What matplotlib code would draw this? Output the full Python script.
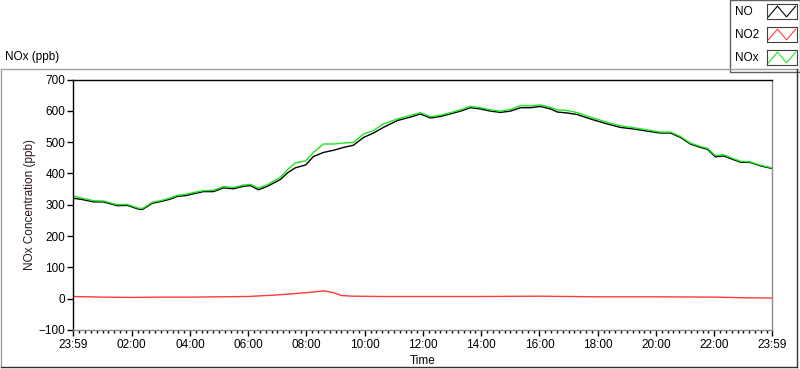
import numpy as np
import matplotlib
matplotlib.use("Agg")
import matplotlib.pyplot as plt
from matplotlib.lines import Line2D
from matplotlib.patches import Rectangle

plt.rcParams["font.family"] = ["Liberation Sans", "DejaVu Sans"]
plt.rcParams["font.size"] = 8.5

# hours of day (start is 23:59 of the previous day)
hours = [-0.02, 0.34, 0.69, 1.03, 1.51, 1.85, 2.23, 2.37, 2.71, 2.99, 3.33, 3.57,
         3.84, 4.12, 4.46, 4.81, 5.15, 5.49, 5.84, 6.08, 6.35, 6.66, 7.11, 7.35,
         7.62, 7.97, 8.24, 8.58, 8.93, 9.27, 9.61, 9.96, 10.30, 10.64, 11.12, 11.57,
         11.91, 12.26, 12.60, 12.94, 13.29, 13.63, 13.97, 14.32, 14.66, 15.00, 15.35,
         15.69, 16.03, 16.38, 16.62, 16.96, 17.30, 17.75, 18.33, 18.78, 19.23, 19.71,
         20.15, 20.50, 20.84, 21.18, 21.53, 21.77, 22.04, 22.32, 22.63, 22.90, 23.24,
         23.59, 23.98]
no_vals = [321, 316, 309, 309, 297, 298, 286, 285, 305, 310, 318, 327,
           329, 335, 342, 342, 354, 351, 359, 361, 348, 359, 381, 402,
           418, 427, 454, 467, 474, 483, 490, 515, 529, 547, 569, 580,
           590, 577, 582, 590, 599, 610, 606, 599, 595, 599, 610,
           610, 614, 606, 596, 593, 588, 574, 558, 547, 542, 535,
           529, 529, 515, 494, 483, 477, 453, 456, 445, 436, 435,
           424, 416]
nox_vals = [328, 320, 313, 312, 300, 301, 289, 288, 308, 313, 322, 330,
            333, 339, 345, 346, 358, 355, 363, 365, 353, 364, 388, 412,
            434, 440, 467, 494, 494, 497, 499, 526, 537, 558, 574, 585,
            594, 581, 586, 594, 603, 614, 610, 603, 599, 604, 617,
            616, 619, 611, 603, 601, 594, 580, 563, 552, 546, 539,
            532, 532, 518, 497, 486, 480, 457, 460, 448, 439, 437,
            426, 418]

no2_hours = [-0.02, 1, 2, 3, 4, 5, 6, 7, 7.7, 8.2, 8.6, 8.9, 9.2, 9.6,
             10.5, 12, 14, 16, 18, 20, 22, 23, 23.98]
no2_vals = [7, 5, 4, 5, 5, 6, 7, 12, 17, 21, 25, 20, 10, 8,
            7, 7, 7, 8, 6, 6, 5, 3, 2]

y_ticks = [-100, 0, 100, 200, 300, 400, 500, 600, 700]
x_ticks = [-1 / 60, 2, 4, 6, 8, 10, 12, 14, 16, 18, 20, 22, 23 + 59 / 60]
x_labels = ["23:59", "02:00", "04:00", "06:00", "08:00", "10:00", "12:00",
            "14:00", "16:00", "18:00", "20:00", "22:00", "23:59"]

legend_names = ["NO", "NO2", "NOx"]
colors = ["black", "#ff3b3b", "#1ee61e"]

W, H = 800, 369
fig = plt.figure(figsize=(8, 3.69), dpi=100)


def fx(px):
    return px / W


def fy(py):
    return 1 - py / H


# outer sunken frame
fig.add_artist(Line2D([fx(1), fx(1)], [fy(69), fy(367)], color="#a0a0a0", lw=1))
fig.add_artist(Line2D([fx(1), fx(797)], [fy(69), fy(69)], color="#a0a0a0", lw=1))
fig.add_artist(Line2D([fx(797), fx(797)], [fy(69), fy(367)], color="#303030", lw=1))
fig.add_artist(Line2D([fx(1), fx(797)], [fy(367), fy(367)], color="#303030", lw=1))

fig.text(fx(5), fy(57), "NOx (ppb)", ha="left", va="center")

ax = fig.add_axes([fx(73), fy(330), fx(772 - 73), (330 - 79.5) / H])
ax.plot(hours, no_vals, color=colors[0], lw=1.0)
ax.plot(no2_hours, no2_vals, color=colors[1], lw=1.0)
ax.plot(hours, nox_vals, color=colors[2], lw=1.0)

ax.set_xlim(-1 / 60, 23 + 59 / 60)
ax.set_ylim(-100, 700)
ax.set_yticks(y_ticks)
ax.set_xticks(x_ticks)
ax.set_xticklabels(x_labels)
minor = [m for m in np.arange(0.2, 23.9, 0.2) if abs(m / 2 - round(m / 2)) > 0.01]
ax.set_xticks(minor, minor=True)

ax.tick_params(axis="y", length=4, width=1, pad=1.5)
ax.tick_params(axis="x", which="major", length=4, width=1, pad=2.5)
ax.tick_params(axis="x", which="minor", length=2.2, width=1)

ax.spines["left"].set_color("black")
ax.spines["top"].set_color("black")
ax.spines["bottom"].set_color("#8c8c8c")
ax.spines["right"].set_color("#8c8c8c")
for s in ax.spines.values():
    s.set_linewidth(1)

ax.set_ylabel("NOx Concentration (ppb)", color="#2a1a24")
ax.yaxis.set_label_coords(-0.053, 0.5)
ax.set_xlabel("Time")
ax.xaxis.set_label_coords(0.5, -0.1)

# legend panel
fig.add_artist(Rectangle((fx(730), fy(72)), fx(70), 72 / H, facecolor="white",
                         edgecolor="#606060", lw=1, transform=fig.transFigure,
                         zorder=1))
tops = [4, 27, 50]
for name, col, top in zip(legend_names, colors, tops):
    fig.text(fx(735), fy(top + 8), name, ha="left", va="center", zorder=3)
    sw = fig.add_axes([fx(767), fy(top + 15), fx(30), 15 / H])
    sw.set_zorder(4)
    sw.plot([0, 1, 2, 3], [0, 1, 0, 1], color=col, lw=0.8)
    sw.set_xlim(-0.15, 3.15)
    sw.set_ylim(-0.2, 1.2)
    sw.set_xticks([])
    sw.set_yticks([])
    for s in sw.spines.values():
        s.set_color("#404040")
        s.set_linewidth(0.8)

fig.savefig("out.png", dpi=100)
